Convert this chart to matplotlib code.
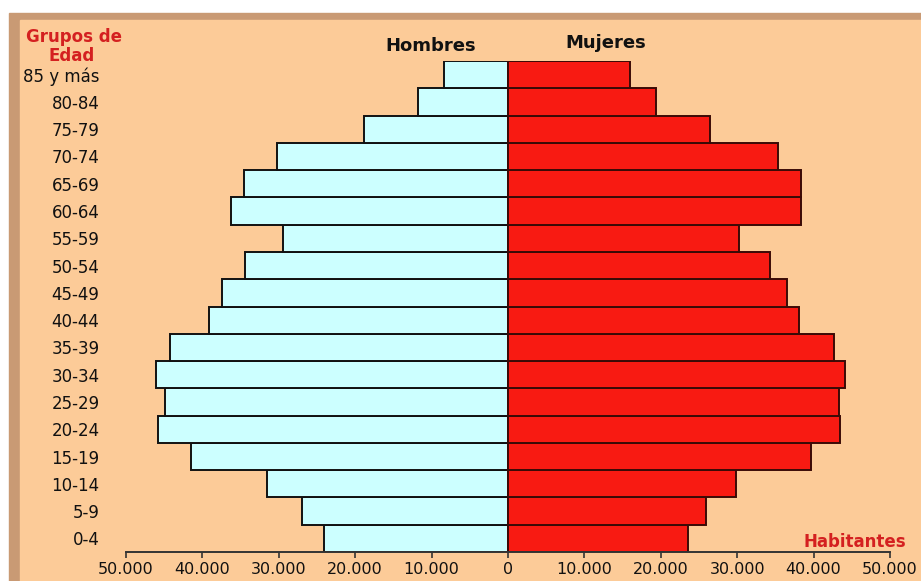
import matplotlib
matplotlib.use('Agg')
import matplotlib.pyplot as plt
from matplotlib.patches import Rectangle
from matplotlib.ticker import FuncFormatter

# grupos quinquenales de edad, de 0-4 a 85 y más
grupos = ['0-4', '5-9', '10-14', '15-19', '20-24', '25-29', '30-34', '35-39',
          '40-44', '45-49', '50-54', '55-59', '60-64', '65-69', '70-74',
          '75-79', '80-84', '85 y más']

# habitantes por grupo
hombres = [24100, 26900, 31500, 41500, 45800, 44900, 46100, 44200, 39100,
           37500, 34400, 29500, 36200, 34600, 30200, 18800, 11800, 8400]
mujeres = [23600, 25900, 29800, 39600, 43400, 43300, 44100, 42700, 38100,
           36500, 34300, 30300, 38300, 38300, 35300, 26400, 19400, 16000]

ticks_x = [-50000, -40000, -30000, -20000, -10000, 0,
           10000, 20000, 30000, 40000, 50000]

FONDO = '#FCCB98'
MARCO = '#C99A74'
ROJO = '#F81A12'
CELESTE = '#CCFFFF'

W, H = 921, 581
fig = plt.figure(figsize=(W / 100, H / 100), dpi=100, facecolor='white')

# marco marrón y fondo salmón
fig.patches.append(Rectangle((9 / W, 0), 1 - 9 / W, 1 - 13 / H,
                             transform=fig.transFigure, color=MARCO, zorder=-2))
fig.patches.append(Rectangle((20 / W, 0), 1 - 20 / W, 1 - 20 / H,
                             transform=fig.transFigure, color=FONDO, zorder=-1))

ax = fig.add_axes([126 / W, 29 / H, 764 / W, 491 / H])
ax.set_facecolor('none')

y = range(len(grupos))
ax.barh(y, [-v for v in hombres], height=1.0, color=CELESTE,
        edgecolor='#111111', linewidth=1.4)
ax.barh(y, mujeres, height=1.0, color=ROJO,
        edgecolor='#3a0a06', linewidth=1.4)

ax.set_xlim(-50000, 50000)
ax.set_ylim(-0.5, len(grupos) - 0.5)

ax.set_xticks(ticks_x)
ax.xaxis.set_major_formatter(
    FuncFormatter(lambda v, p: f'{abs(int(v)):,}'.replace(',', '.')))
ax.tick_params(axis='x', length=4, width=1.2, color='#333333',
               labelsize=11.5, pad=3, labelcolor='#111111')

ax.set_yticks(list(y), labels=grupos)
ax.tick_params(axis='y', length=0, pad=19, labelsize=12, labelcolor='#111111')

for s in ['top', 'right', 'left']:
    ax.spines[s].set_visible(False)
ax.spines['bottom'].set_color('#333333')
ax.spines['bottom'].set_linewidth(1.4)

fig.text(431 / W, 1 - 46 / H, 'Hombres', ha='center', va='center',
         fontsize=13, fontweight='bold', color='#111111')
fig.text(606 / W, 1 - 43 / H, 'Mujeres', ha='center', va='center',
         fontsize=13, fontweight='bold', color='#111111')
fig.text(74 / W, 1 - 37 / H, 'Grupos de', ha='center', va='center',
         fontsize=12, fontweight='bold', color='#D42020')
fig.text(72 / W, 1 - 56 / H, 'Edad', ha='center', va='center',
         fontsize=12, fontweight='bold', color='#D42020')
fig.text(855 / W, 1 - 542 / H, 'Habitantes', ha='center', va='center',
         fontsize=12, fontweight='bold', color='#D42020')

fig.savefig('out.png', dpi=100, facecolor=fig.get_facecolor())
